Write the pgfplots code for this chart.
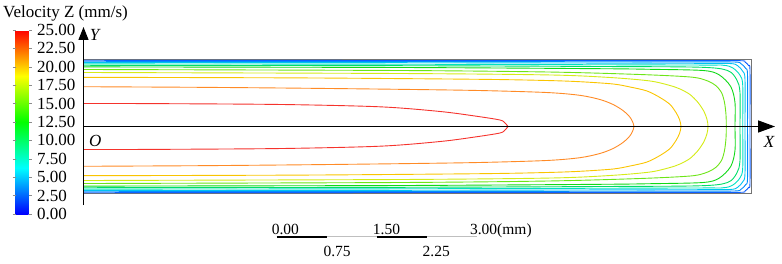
\documentclass[border=0pt]{standalone}
\usepackage{fontspec}
\setmainfont{Liberation Serif}
\usepackage{pgfplots}
\pgfplotsset{compat=1.18}
\usetikzlibrary{arrows.meta}

% contour line colours, hue taken along the blue-to-red legend
\definecolor{lvA}{Hsb}{2,0.82,0.96}
\definecolor{lvB}{Hsb}{28,0.85,1}
\definecolor{lvC}{Hsb}{47,1,0.98}
\definecolor{lvD}{Hsb}{66,0.9,0.92}
\definecolor{lvE}{Hsb}{95,0.9,0.9}
\definecolor{lvF}{Hsb}{122,0.92,0.85}
\definecolor{lvG}{Hsb}{148,1,0.87}
\definecolor{lvH}{Hsb}{172,1,0.88}
\definecolor{lvI}{Hsb}{192,1,0.95}
\definecolor{lvJ}{Hsb}{207,1,1}
\definecolor{lvK}{Hsb}{220,0.95,1}

\newcommand{\lblfont}{\fontsize{17}{17}\selectfont}
\newcommand{\barfont}{\fontsize{15.5}{15.5}\selectfont}

\begin{document}
\begin{tikzpicture}
\useasboundingbox (-83.5pt,-69.75pt) rectangle (698.5pt,193.25pt);
\begin{axis}[
  name=main, at={(0pt,0pt)}, anchor=south west,
  scale only axis, width=667.5pt, height=133.5pt,
  xmin=0, xmax=10, ymin=-1, ymax=1,
  ticks=none, clip=false,
  axis line style={draw=black!55, line width=0.8pt},
  colormap={velz}{rgb255=(0,0,255) rgb255=(0,255,255) rgb255=(0,255,0) rgb255=(255,255,0) rgb255=(255,0,0)},
  point meta min=0, point meta max=25,
  colorbar,
  colorbar style={
    at={(parent axis.south west)}, anchor=south west,
    % the colorbar keeps its default 0.3cm offset, so shift past it
    xshift=-76.5pt, yshift=-20.75pt,
    scale only axis, width=13pt, height=184pt,
    ytick={0,2.5,5,7.5,10,12.5,15,17.5,20,22.5,25},
    yticklabel style={font=\lblfont, xshift=2pt, /pgf/number format/.cd, fixed, fixed zerofill, precision=2, assume math mode=true},
    axis line style={draw=none},
    tick align=outside, major tick length=3pt,
    ytick style={draw=black!45, line width=0.5pt},
  },
  every axis plot/.append style={line width=0.9pt, smooth, tension=0.5},
]

% velocity contours in the half channel (x in mm, y in mm from the mid-plane)
\addplot[lvK] coordinates {(0,0.992) (4.742,0.989) (9.086,0.986) (9.835,0.986) (9.910,0.966) (9.966,0.911) (9.985,0.836) (9.985,0) (9.985,-0.836) (9.966,-0.911) (9.910,-0.966) (9.835,-0.986) (9.086,-0.986) (4.742,-0.989) (0,-0.992)};
\addplot[lvJ] coordinates {(0,0.977) (4.742,0.974) (9.086,0.968) (9.753,0.966) (9.850,0.941) (9.922,0.869) (9.948,0.772) (9.948,0) (9.948,-0.772) (9.922,-0.869) (9.850,-0.941) (9.753,-0.966) (9.086,-0.968) (4.742,-0.974) (0,-0.977)};
\addplot[lvI] coordinates {(0,0.959) (4.742,0.956) (9.086,0.947) (9.678,0.944) (9.798,0.912) (9.879,0.824) (9.910,0.704) (9.910,0) (9.910,-0.704) (9.879,-0.824) (9.798,-0.912) (9.678,-0.944) (9.086,-0.947) (4.742,-0.956) (0,-0.959)};
\addplot[lvH] coordinates {(0,0.938) (4.742,0.933) (9.086,0.921) (9.576,0.918) (9.726,0.878) (9.835,0.769) (9.876,0.619) (9.876,0) (9.876,-0.619) (9.835,-0.769) (9.726,-0.878) (9.576,-0.918) (9.086,-0.921) (4.742,-0.933) (0,-0.938)};
\addplot[lvG] coordinates {(0,0.917) (4.742,0.911) (7.738,0.899) (9.236,0.888) (9.648,0.839) (9.786,0.701) (9.835,0.514) (9.835,0) (9.835,-0.514) (9.786,-0.701) (9.648,-0.839) (9.236,-0.888) (7.738,-0.899) (4.742,-0.911) (0,-0.917)};
\addplot[lvF] coordinates {(0,0.893) (4.742,0.884) (7.738,0.866) (8.487,0.857) (9.281,0.839) (9.521,0.775) (9.696,0.599) (9.760,0.360) (9.760,0) (9.760,-0.360) (9.696,-0.599) (9.521,-0.775) (9.281,-0.839) (8.487,-0.857) (7.738,-0.866) (4.742,-0.884) (0,-0.893)};
\addplot[lvE] coordinates {(0,0.854) (4.742,0.839) (6.989,0.816) (8.337,0.779) (9.086,0.742) (9.311,0.697) (9.461,0.622) (9.558,0.509) (9.603,0.360) (9.625,0.180) (9.630,0) (9.625,-0.180) (9.603,-0.360) (9.558,-0.509) (9.461,-0.622) (9.311,-0.697) (9.086,-0.742) (8.337,-0.779) (6.989,-0.816) (4.742,-0.839) (0,-0.854)};
\addplot[lvD] coordinates {(0,0.809) (4.742,0.794) (6.989,0.772) (7.888,0.734) (8.487,0.682) (8.787,0.614) (8.936,0.562) (9.086,0.479) (9.206,0.360) (9.296,0.225) (9.341,0.105) (9.356,0) (9.341,-0.105) (9.296,-0.225) (9.206,-0.360) (9.086,-0.479) (8.936,-0.562) (8.787,-0.614) (8.487,-0.682) (7.888,-0.734) (6.989,-0.772) (4.742,-0.794) (0,-0.809)};
\addplot[lvC] coordinates {(0,0.737) (3.243,0.728) (5.940,0.707) (6.944,0.689) (7.438,0.671) (7.933,0.637) (8.187,0.592) (8.442,0.532) (8.637,0.434) (8.787,0.330) (8.876,0.210) (8.929,0.105) (8.951,0) (8.929,-0.105) (8.876,-0.210) (8.787,-0.330) (8.637,-0.434) (8.442,-0.532) (8.187,-0.592) (7.933,-0.637) (7.438,-0.671) (6.944,-0.689) (5.940,-0.707) (3.243,-0.728) (0,-0.737)};
\addplot[lvB] coordinates {(0,0.596) (1.745,0.587) (3.243,0.574) (4.742,0.557) (5.940,0.539) (6.944,0.509) (7.438,0.467) (7.738,0.404) (7.933,0.330) (8.082,0.240) (8.172,0.157) (8.217,0.090) (8.247,0) (8.217,-0.090) (8.172,-0.157) (8.082,-0.240) (7.933,-0.330) (7.738,-0.404) (7.438,-0.467) (6.944,-0.509) (5.940,-0.539) (4.742,-0.557) (3.243,-0.574) (1.745,-0.587) (0,-0.596)};
\addplot[lvA] coordinates {(0,0.345) (0.996,0.343) (2.944,0.330) (4.442,0.295) (5.341,0.225) (5.865,0.157) (6.240,0.097) (6.315,0.052) (6.360,0)};
\addplot[lvA] coordinates {(0,-0.345) (0.996,-0.343) (2.944,-0.330) (4.442,-0.295) (5.341,-0.225) (5.865,-0.157) (6.240,-0.097) (6.315,-0.052) (6.360,0)};

% coordinate axes
\draw[line width=1.3pt, -{Triangle[length=13pt,width=10pt]}] (axis cs:0,-1.176) -- (axis cs:0,1.491);
\draw[line width=1.3pt, -{Triangle[length=17pt,width=12pt]}] (axis cs:0,0) -- (axis cs:10.36,0);
\node[inner sep=0pt, font=\lblfont\itshape] at (axis cs:0.165,1.371) {Y};
\node[inner sep=0pt, font=\lblfont\itshape] at (axis cs:0.177,-0.210) {O};
\node[inner sep=0pt, font=\lblfont\itshape] at (axis cs:10.27,-0.232) {X};

% legend title
\node[inner sep=0pt, anchor=west, font=\lblfont] at (axis cs:-1.206,1.700) {Velocity Z (mm/s)};

% scale bar, 3 mm in 0.75 mm steps
\draw[line width=1.6pt, black] (axis cs:2.894,-1.651) -- (axis cs:3.644,-1.651);
\draw[line width=0.8pt, black!25] (axis cs:3.644,-1.651) -- (axis cs:4.394,-1.651);
\draw[line width=1.6pt, black] (axis cs:4.394,-1.651) -- (axis cs:5.144,-1.651);
\draw[line width=0.8pt, black!25] (axis cs:5.144,-1.651) -- (axis cs:5.894,-1.651);
\node[inner sep=0pt, anchor=base west, font=\barfont] at (axis cs:2.819,-1.618) {0.00};
\node[inner sep=0pt, anchor=base west, font=\barfont] at (axis cs:4.334,-1.618) {1.50};
\node[inner sep=0pt, anchor=base west, font=\barfont] at (axis cs:5.789,-1.618) {3.00(mm)};
\node[inner sep=0pt, anchor=base west, font=\barfont] at (axis cs:3.594,-1.950) {0.75};
\node[inner sep=0pt, anchor=base west, font=\barfont] at (axis cs:5.079,-1.950) {2.25};
\end{axis}
\end{tikzpicture}
\end{document}
